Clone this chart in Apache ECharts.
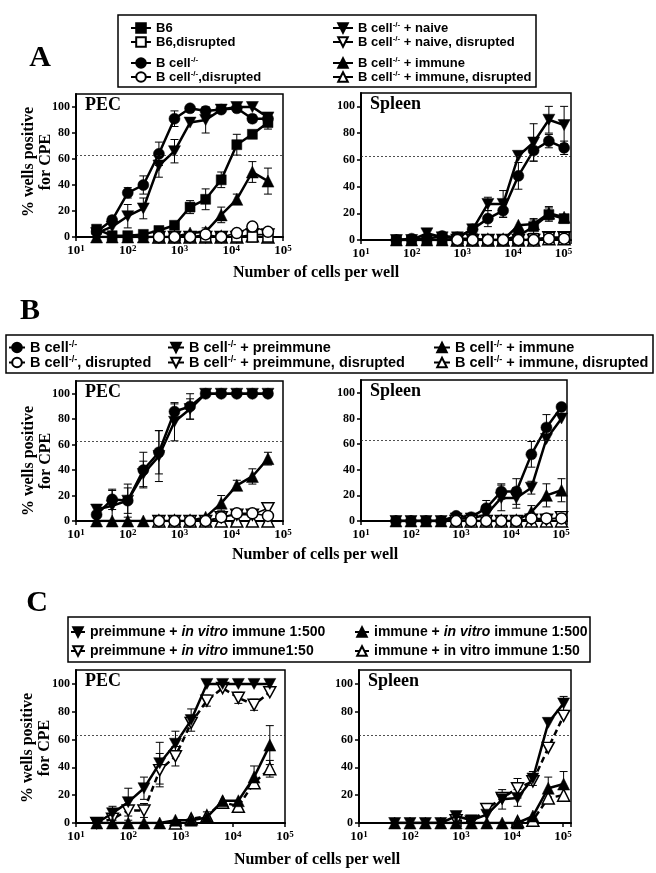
<!DOCTYPE html>
<html><head><meta charset="utf-8">
<script src="https://cdn.jsdelivr.net/npm/echarts@6/dist/echarts.min.js"></script>
<style>html,body{margin:0;padding:0;background:#fff}#c{width:656px;height:873px}</style>
</head><body><div id="c"></div><script>
// ---------- data ----------
const cellsPEC = [25,50,100,200,400,800,1600,3200,6400,12800,25600,51200];
const cellsSpleen = [50,100,200,400,800,1600,3200,6400,12800,25600,51200,102400];
const yTicks = [0,20,40,60,80,100];
const cutoff = 63;
const _ = null; // well not plotted / not visible

// Panel A - PEC
const aPecB6       = [6,1,1,2,5,9,23,29,44,71,79,88];
const aPecB6Err    = [0,0,0,0,0,0,5,8,6,8,3,5];
const aPecB6Dis    = [_,_,_,_,0,0,0,0,0,0,0,0];
const aPecKo       = [4,13,34,40,64,91,99,97,98,99,91,91];
const aPecKoErr    = [0,3,4,7,9,6,0,3,0,0,3,3];
const aPecKoDis    = [_,_,_,_,0,0,0,2,0,3,8,4];
const aPecNaive    = [3,8,16,22,55,66,88,90,98,100,100,92];
const aPecNaiveErr = [0,0,9,8,9,9,0,10,0,0,0,0];
const aPecNaiveDis = [_,_,_,_,0,0,0,0,0,0,2,2];
const aPecImm      = [0,0,0,0,0,0,3,4,17,29,50,43];
const aPecImmErr   = [0,0,0,0,0,0,0,3,6,4,8,10];
const aPecImmDis   = [_,_,_,_,0,0,0,0,0,0,1,0];
// Panel A - Spleen
const aSplB6       = [0,0,0,0,1,1,0,0,3,10,19,16];
const aSplB6Err    = [0,0,0,0,0,0,0,0,0,5,5,0];
const aSplB6Dis    = [_,_,_,_,0,0,0,0,0,1,2,2];
const aSplKo       = [0,1,1,3,2,8,16,22,48,67,74,69];
const aSplKoErr    = [0,0,0,0,0,0,6,5,10,8,5,5];
const aSplKoDis    = [_,_,_,_,0,0,0,0,0,0,1,1];
const aSplNaive    = [0,0,5,2,2,8,27,27,63,73,90,86];
const aSplNaiveErr = [0,0,3,0,0,0,5,10,0,14,10,14];
const aSplNaiveDis = [_,_,_,_,0,0,0,0,0,0,2,2];
const aSplImm      = [0,0,0,0,0,0,0,0,11,12,20,17];
const aSplImmErr   = [0,0,0,0,0,0,0,0,0,4,5,0];
const aSplImmDis   = [_,_,_,_,0,0,0,0,0,0,1,1];
// Panel B - PEC
const bPecKo       = [5,17,16,40,54,86,90,100,100,100,100,100];
const bPecKoErr    = [0,8,13,14,17,6,10,0,0,0,0,0];
const bPecKoDis    = [_,_,_,_,0,0,0,0,3,6,6,4];
const bPecPre      = [9,12,16,37,51,78,88,100,100,100,100,100];
const bPecPreErr   = [4,12,10,10,20,15,8,0,0,0,0,0];
const bPecPreDis   = [_,_,_,_,0,0,0,0,3,5,5,10];
const bPecImm      = [0,0,0,0,0,0,0,3,14,28,35,49];
const bPecImmErr   = [0,0,0,0,0,0,0,0,6,4,6,5];
const bPecImmDis   = [_,_,_,_,0,0,0,0,0,0,0,0];
// Panel B - Spleen
const bSplKo       = [0,0,0,0,4,3,10,23,23,52,73,89];
const bSplKoErr    = [0,0,0,0,0,0,6,6,10,10,10,0];
const bSplKoDis    = [_,_,_,_,0,0,0,0,0,2,2,2];
const bSplPre      = [0,0,0,0,2,2,5,18,18,26,64,80];
const bSplPreErr   = [0,0,0,0,0,0,0,10,8,5,0,0];
const bSplPreDis   = [_,_,_,_,0,0,0,0,0,1,1,3];
const bSplImm      = [0,0,0,0,0,0,0,0,0,7,20,24];
const bSplImmErr   = [0,0,0,0,0,0,0,0,0,5,9,9];
const bSplImmDis   = [_,_,_,_,0,0,0,0,0,0,0,0];
// Panel C - PEC
const cPecPre500    = [0,7,15,25,43,57,74,100,100,100,100,100];
const cPecPre500Err = [0,5,10,8,15,9,8,0,0,0,0,0];
const cPecPre50     = [0,3,9,9,38,48,72,88,97,90,85,94];
const cPecPre50Err  = [0,0,7,5,12,7,0,4,0,4,4,0];
const cPecImm500    = [0,0,0,0,0,2,2,4,16,16,33,56];
const cPecImm500Err = [0,0,0,0,0,0,0,4,0,0,8,14];
const cPecImm50     = [_,_,_,_,_,0,3,5,15,12,29,39];
const cPecImm50Err  = [0,0,0,0,0,0,0,0,0,0,0,6];
// Panel C - Spleen
const cSplPre500    = [0,0,0,0,5,2,6,17,18,32,72,86];
const cSplPre500Err = [0,0,0,0,0,0,0,7,6,5,0,5];
const cSplPre50     = [_,_,_,_,2,1,10,18,25,30,54,77];
const cSplPre50Err  = [0,0,0,0,0,0,0,0,7,0,0,0];
const cSplImm500    = [0,0,0,0,0,0,0,0,0,5,25,28];
const cSplImm500Err = [0,0,0,0,0,0,0,0,0,0,8,9];
const cSplImm50     = [_,_,_,_,_,_,_,_,1,2,18,20];
const cSplImm50Err  = [0,0,0,0,0,0,0,0,0,0,0,0];

// ---------- styling ----------
const SERIF = '"Liberation Serif","Times New Roman",serif';
const SANS = '"Liberation Sans",Arial,sans-serif';
const DOWN = 'path://M0,0L12,0L6,11Z';
const ST = {
  SQ:{symbol:'rect',size:10,lw:2.5}, SQo:{symbol:'rect',size:10,open:true,lw:1.5},
  CI:{symbol:'circle',size:11,lw:2.5}, CIo:{symbol:'circle',size:11,open:true,lw:1.5},
  DN:{symbol:DOWN,size:[12,11],lw:2.5}, DNo:{symbol:DOWN,size:[12,11],open:true,lw:1.5},
  UP:{symbol:'triangle',size:12,lw:2.5}, UPo:{symbol:'triangle',size:12,open:true,lw:1.5},
  DNd:{symbol:DOWN,size:[12,11],open:true,lw:2.5,dash:true}, UPd:{symbol:'triangle',size:12,open:true,lw:2.5,dash:true}
};

const grids = [
  {left:76, top:94, width:207, height:143, xmax:100000, title:'PEC'},
  {left:361, top:93, width:210, height:147, xmax:140000, title:'Spleen'},
  {left:76, top:381, width:207, height:140, xmax:100000, title:'PEC'},
  {left:361, top:380, width:206, height:141, xmax:132000, title:'Spleen'},
  {left:76, top:670, width:209, height:153, xmax:100000, title:'PEC'},
  {left:359, top:670, width:212, height:153, xmax:143000, title:'Spleen'}
];

// series per grid: [name, values, errors, style]; later entries draw on top
const panels = [
  {xs:cellsPEC, list:[
    ['B cell-/- + immune',aPecImm,aPecImmErr,'UP'],['B cell-/- + naive',aPecNaive,aPecNaiveErr,'DN'],
    ['B cell-/-',aPecKo,aPecKoErr,'CI'],['B6',aPecB6,aPecB6Err,'SQ'],
    ['B cell-/- + immune, disrupted',aPecImmDis,null,'UPo'],['B cell-/- + naive, disrupted',aPecNaiveDis,null,'DNo'],
    ['B6,disrupted',aPecB6Dis,null,'SQo'],['B cell-/-,disrupted',aPecKoDis,null,'CIo']]},
  {xs:cellsSpleen, list:[
    ['B cell-/- + immune',aSplImm,aSplImmErr,'UP'],['B cell-/- + naive',aSplNaive,aSplNaiveErr,'DN'],
    ['B cell-/-',aSplKo,aSplKoErr,'CI'],['B6',aSplB6,aSplB6Err,'SQ'],
    ['B cell-/- + immune, disrupted',aSplImmDis,null,'UPo'],['B cell-/- + naive, disrupted',aSplNaiveDis,null,'DNo'],
    ['B6,disrupted',aSplB6Dis,null,'SQo'],['B cell-/-,disrupted',aSplKoDis,null,'CIo']]},
  {xs:cellsPEC, list:[
    ['B cell-/- + preimmune',bPecPre,bPecPreErr,'DN'],['B cell-/-',bPecKo,bPecKoErr,'CI'],
    ['B cell-/- + immune',bPecImm,bPecImmErr,'UP'],
    ['B cell-/- + immune, disrupted',bPecImmDis,null,'UPo'],['B cell-/- + preimmune, disrupted',bPecPreDis,null,'DNo'],
    ['B cell-/-, disrupted',bPecKoDis,null,'CIo']]},
  {xs:cellsSpleen, list:[
    ['B cell-/- + preimmune',bSplPre,bSplPreErr,'DN'],['B cell-/-',bSplKo,bSplKoErr,'CI'],
    ['B cell-/- + immune',bSplImm,bSplImmErr,'UP'],
    ['B cell-/- + immune, disrupted',bSplImmDis,null,'UPo'],['B cell-/- + preimmune, disrupted',bSplPreDis,null,'DNo'],
    ['B cell-/-, disrupted',bSplKoDis,null,'CIo']]},
  {xs:cellsPEC, list:[
    ['preimmune + in vitro immune1:50',cPecPre50,cPecPre50Err,'DNd'],
    ['immune + in vitro immune 1:50',cPecImm50,cPecImm50Err,'UPd'],
    ['preimmune + in vitro immune 1:500',cPecPre500,cPecPre500Err,'DN'],
    ['immune + in vitro immune 1:500',cPecImm500,cPecImm500Err,'UP']]},
  {xs:cellsSpleen, list:[
    ['preimmune + in vitro immune1:50',cSplPre50,cSplPre50Err,'DNd'],
    ['immune + in vitro immune 1:50',cSplImm50,cSplImm50Err,'UPd'],
    ['preimmune + in vitro immune 1:500',cSplPre500,cSplPre500Err,'DN'],
    ['immune + in vitro immune 1:500',cSplImm500,cSplImm500Err,'UP']]}
];

function lineSeries(name, gi, xs, ys, st, z){
  return {
    type:'line', name, xAxisIndex:gi, yAxisIndex:gi,
    data: xs.map((x,i)=>[x, ys[i]]).filter(d=>d[1]!==null),
    symbol: st.symbol, symbolSize: st.size, showAllSymbol:true,
    itemStyle:{color: st.open?'#fff':'#000', borderColor:'#000', borderWidth: st.open?1.5:0.5},
    lineStyle:{color:'#000', width: st.lw, type: st.dash?[6,4]:'solid'},
    z, silent:true, animation:false
  };
}
function errRender(params, api){
  const x = api.value(0), lo = api.value(1), hi = api.value(2);
  const a = api.coord([x, lo]), b = api.coord([x, hi]);
  const w = 4, s = {stroke:'#000', lineWidth:1};
  return {type:'group', children:[
    {type:'line', shape:{x1:a[0],y1:a[1],x2:b[0],y2:b[1]}, style:s},
    {type:'line', shape:{x1:a[0]-w,y1:a[1],x2:a[0]+w,y2:a[1]}, style:s},
    {type:'line', shape:{x1:b[0]-w,y1:b[1],x2:b[0]+w,y2:b[1]}, style:s}
  ]};
}

const series = [];
panels.forEach((p, gi)=>{
  const errData = [];
  p.list.forEach(([name, vals, errs, stKey], k)=>{
    const s = lineSeries(name, gi, p.xs, vals, ST[stKey], 3 + k*0.01);
    if (k===0) s.markLine = {silent:true, symbol:'none', label:{show:false}, animation:false,
      lineStyle:{type:[2,2], color:'#222', width:0.8}, data:[{yAxis:cutoff}]};
    series.push(s);
    if (errs) errs.forEach((e,i)=>{ if(e>0 && vals[i]!==null) errData.push([p.xs[i], Math.max(0, vals[i]-e), vals[i]+e]); });
  });
  series.push({type:'custom', xAxisIndex:gi, yAxisIndex:gi, data:errData, renderItem:errRender,
    encode:{x:0, y:[1,2]}, z:2, silent:true, animation:false, clip:false});
});

const xAxes = grids.map((g,i)=>({
  type:'log', logBase:10, gridIndex:i, min:10, max:g.xmax,
  axisLine:{show:true, onZero:false, lineStyle:{color:'#000', width:2}},
  axisTick:{show:true, length:4, lineStyle:{color:'#000', width:1.5}},
  minorTick:{show:false}, splitLine:{show:false},
  axisLabel:{margin:7, color:'#000', showMaxLabel:true,
    formatter:v=>{ const e=Math.log10(v); const r=Math.round(e); return Math.abs(e-r)<1e-6 ? '{b|10}{s|'+r+'}' : ''; },
    rich:{b:{fontFamily:SERIF, fontWeight:'bold', fontSize:13, color:'#000', lineHeight:14},
          s:{fontFamily:SERIF, fontWeight:'bold', fontSize:9, color:'#000', verticalAlign:'top', lineHeight:8}}}
}));
const yAxes = grids.map((g,i)=>({
  type:'value', gridIndex:i, min:0, max:110, interval:20,
  axisLine:{show:true, lineStyle:{color:'#000', width:2}},
  axisTick:{show:true, length:4, lineStyle:{color:'#000', width:1.5}, customValues:yTicks},
  splitLine:{show:false},
  axisLabel:{customValues:yTicks, formatter:v=> v<=100?String(v):'', margin:6, color:'#000',
    fontFamily:SERIF, fontWeight:'bold', fontSize:12}
}));
const titles = grids.map(g=>({text:g.title, left:g.left+9, top:g.top+2,
  textStyle:{fontFamily:SERIF, fontWeight:'bold', fontSize:18, color:'#000'}, padding:0}));

const supRich = size => ({
  sup:{fontFamily:SANS, fontWeight:'bold', fontSize:Math.round(size*0.62), color:'#000', verticalAlign:'top', lineHeight:8},
  it:{fontFamily:SANS, fontWeight:'bold', fontStyle:'italic', fontSize:size, color:'#000'}
});
const italicMap = {
  'preimmune + in vitro immune 1:500':'preimmune + {it|in vitro} immune 1:500',
  'preimmune + in vitro immune1:50':'preimmune + {it|in vitro} immune1:50',
  'immune + in vitro immune 1:500':'immune + {it|in vitro} immune 1:500'
};
function legend(data, left, top, size, lh, gap, iw){
  return {data, left, top, orient:'vertical', padding:0, itemGap:gap, itemWidth:iw, itemHeight:12,
    selectedMode:false, animation:false,
    formatter:n=> italicMap[n] || n.replace('-/-','{sup|-/-}'),
    textStyle:{fontFamily:SANS, fontWeight:'bold', fontSize:size, color:'#000', lineHeight:lh, rich:supRich(size)}};
}
const legends = [
  legend(['B6','B6,disrupted'],130,21,13,14,0,20),
  legend(['B cell-/-','B cell-/-,disrupted'],130,56,13,14,0,20),
  legend(['B cell-/- + naive','B cell-/- + naive, disrupted'],332,21,13,14,0,20),
  legend(['B cell-/- + immune','B cell-/- + immune, disrupted'],332,56,13,14,0,20),
  legend(['B cell-/-','B cell-/-, disrupted'],8,340,14.5,15,0,16),
  legend(['B cell-/- + preimmune','B cell-/- + preimmune, disrupted'],167,340,14.5,15,0,16),
  legend(['B cell-/- + immune','B cell-/- + immune, disrupted'],433,340,14.5,15,0,16),
  legend(['preimmune + in vitro immune 1:500','preimmune + in vitro immune1:50'],70,624,14,16,3,14),
  legend(['immune + in vitro immune 1:500','immune + in vitro immune 1:50'],354,624,14,16,3,14)
];

function txt(x,y,text,size,rot){
  return {type:'text', x, y, rotation:rot||0, silent:true,
    style:{text, font:'bold '+size+'px '+SERIF, fill:'#000', align:'center', verticalAlign:'middle',
      textAlign:'center', textVerticalAlign:'middle', lineHeight:17}};
}
function box(x,y,w,h){
  return {type:'rect', silent:true, shape:{x,y,width:w,height:h}, style:{fill:'none', stroke:'#000', lineWidth:1.5}};
}
const graphics = [
  box(118,15,418,72), box(6,335,647,38), box(68,617,522,45),
  txt(40,58,'A',30), txt(30,311,'B',30), txt(37,603,'C',30),
  txt(37,162,'% wells positive\nfor CPE',16,Math.PI/2),
  txt(37,461,'% wells positive\nfor CPE',16,Math.PI/2),
  txt(36,748,'% wells positive\nfor CPE',16,Math.PI/2),
  txt(316,273,'Number of cells per well',16),
  txt(315,555,'Number of cells per well',16),
  txt(317,860,'Number of cells per well',16)
];

const chart = echarts.init(document.getElementById('c'), null, {renderer:'canvas'});
chart.setOption({
  animation:false, backgroundColor:'#fff',
  title:titles,
  grid: grids.map(g=>({left:g.left, top:g.top, width:g.width, height:g.height, show:true,
    borderColor:'#000', borderWidth:1.5, backgroundColor:'transparent'})),
  xAxis:xAxes, yAxis:yAxes, legend:legends, series, graphic:graphics
});
</script></body></html>
